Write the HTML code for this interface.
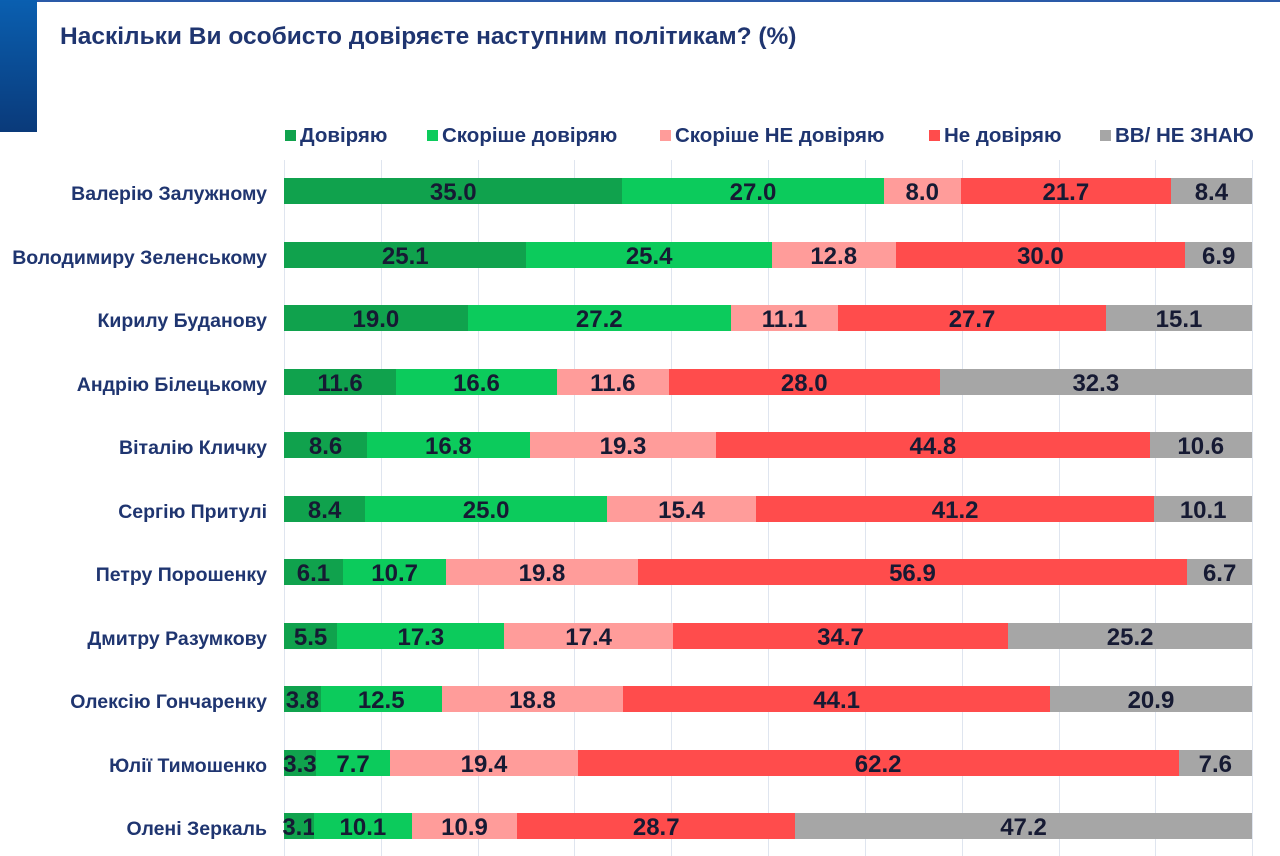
<!DOCTYPE html>
<html><head><meta charset="utf-8"><style>
body{margin:0;width:1280px;height:856px;background:#fff;position:relative;overflow:hidden;font-family:"Liberation Sans",Arial,sans-serif;}
.topline{position:absolute;left:0;top:0;width:1280px;height:2px;background:#2a5aa8}
.blk{position:absolute;left:0;top:0;width:37px;height:132px;background:linear-gradient(180deg,#0a5fb0,#0a3a7a)}
.title{position:absolute;left:60px;top:23px;font-size:24.5px;font-weight:bold;color:#1f3570}
.leg{position:absolute;top:124px;font-size:20.5px;font-weight:bold;color:#1f3570;white-space:nowrap}
.leg i{display:inline-block;width:11px;height:11px;margin-right:4px;vertical-align:1px}
.grid{position:absolute;top:160px;width:1px;height:696px;background:#dfe5ef}
.row{position:absolute;left:284px;width:968px;height:26px;display:flex}
.row div{flex-basis:0;min-width:0;text-align:center;font-size:24px;font-weight:bold;color:#161a33;line-height:29px;white-space:nowrap;display:flex;justify-content:center;overflow:visible}
.lab{position:absolute;right:1013px;font-size:19.5px;font-weight:bold;color:#1f3570;white-space:nowrap;line-height:26px;margin-top:3px}
.a{background:#10a24d}.b{background:#0ccb5c}.c{background:#ff9c9a}.d{background:#ff4c4c}.e{background:#a6a6a6}
</style></head><body>
<div class="topline"></div><div class="blk"></div>
<div class="title">Наскільки Ви особисто довіряєте наступним політикам? (%)</div>
<div class="leg" style="left:285px"><i class="a"></i>Довіряю</div>
<div class="leg" style="left:427px"><i class="b"></i>Скоріше довіряю</div>
<div class="leg" style="left:660px"><i class="c"></i>Скоріше НЕ довіряю</div>
<div class="leg" style="left:929px"><i class="d"></i>Не довіряю</div>
<div class="leg" style="left:1100px"><i class="e"></i>ВВ/ НЕ ЗНАЮ</div>
<div class="grid" style="left:284px"></div><div class="grid" style="left:381px"></div><div class="grid" style="left:478px"></div><div class="grid" style="left:574px"></div><div class="grid" style="left:671px"></div><div class="grid" style="left:768px"></div><div class="grid" style="left:865px"></div><div class="grid" style="left:962px"></div><div class="grid" style="left:1059px"></div><div class="grid" style="left:1155px"></div><div class="grid" style="left:1252px"></div>

<div class="lab" style="top:178px">Валерію Залужному</div>
<div class="row" style="top:178px"><div class="a" style="flex-grow:35">35.0</div><div class="b" style="flex-grow:27">27.0</div><div class="c" style="flex-grow:8">8.0</div><div class="d" style="flex-grow:21.7">21.7</div><div class="e" style="flex-grow:8.4">8.4</div></div>
<div class="lab" style="top:242px">Володимиру Зеленському</div>
<div class="row" style="top:242px"><div class="a" style="flex-grow:25.1">25.1</div><div class="b" style="flex-grow:25.4">25.4</div><div class="c" style="flex-grow:12.8">12.8</div><div class="d" style="flex-grow:30">30.0</div><div class="e" style="flex-grow:6.9">6.9</div></div>
<div class="lab" style="top:305px">Кирилу Буданову</div>
<div class="row" style="top:305px"><div class="a" style="flex-grow:19">19.0</div><div class="b" style="flex-grow:27.2">27.2</div><div class="c" style="flex-grow:11.1">11.1</div><div class="d" style="flex-grow:27.7">27.7</div><div class="e" style="flex-grow:15.1">15.1</div></div>
<div class="lab" style="top:369px">Андрію Білецькому</div>
<div class="row" style="top:369px"><div class="a" style="flex-grow:11.6">11.6</div><div class="b" style="flex-grow:16.6">16.6</div><div class="c" style="flex-grow:11.6">11.6</div><div class="d" style="flex-grow:28">28.0</div><div class="e" style="flex-grow:32.3">32.3</div></div>
<div class="lab" style="top:432px">Віталію Кличку</div>
<div class="row" style="top:432px"><div class="a" style="flex-grow:8.6">8.6</div><div class="b" style="flex-grow:16.8">16.8</div><div class="c" style="flex-grow:19.3">19.3</div><div class="d" style="flex-grow:44.8">44.8</div><div class="e" style="flex-grow:10.6">10.6</div></div>
<div class="lab" style="top:496px">Сергію Притулі</div>
<div class="row" style="top:496px"><div class="a" style="flex-grow:8.4">8.4</div><div class="b" style="flex-grow:25">25.0</div><div class="c" style="flex-grow:15.4">15.4</div><div class="d" style="flex-grow:41.2">41.2</div><div class="e" style="flex-grow:10.1">10.1</div></div>
<div class="lab" style="top:559px">Петру Порошенку</div>
<div class="row" style="top:559px"><div class="a" style="flex-grow:6.1">6.1</div><div class="b" style="flex-grow:10.7">10.7</div><div class="c" style="flex-grow:19.8">19.8</div><div class="d" style="flex-grow:56.9">56.9</div><div class="e" style="flex-grow:6.7">6.7</div></div>
<div class="lab" style="top:623px">Дмитру Разумкову</div>
<div class="row" style="top:623px"><div class="a" style="flex-grow:5.5">5.5</div><div class="b" style="flex-grow:17.3">17.3</div><div class="c" style="flex-grow:17.4">17.4</div><div class="d" style="flex-grow:34.7">34.7</div><div class="e" style="flex-grow:25.2">25.2</div></div>
<div class="lab" style="top:686px">Олексію Гончаренку</div>
<div class="row" style="top:686px"><div class="a" style="flex-grow:3.8">3.8</div><div class="b" style="flex-grow:12.5">12.5</div><div class="c" style="flex-grow:18.8">18.8</div><div class="d" style="flex-grow:44.1">44.1</div><div class="e" style="flex-grow:20.9">20.9</div></div>
<div class="lab" style="top:750px">Юлії Тимошенко</div>
<div class="row" style="top:750px"><div class="a" style="flex-grow:3.3">3.3</div><div class="b" style="flex-grow:7.7">7.7</div><div class="c" style="flex-grow:19.4">19.4</div><div class="d" style="flex-grow:62.2">62.2</div><div class="e" style="flex-grow:7.6">7.6</div></div>
<div class="lab" style="top:813px">Олені Зеркаль</div>
<div class="row" style="top:813px"><div class="a" style="flex-grow:3.1">3.1</div><div class="b" style="flex-grow:10.1">10.1</div><div class="c" style="flex-grow:10.9">10.9</div><div class="d" style="flex-grow:28.7">28.7</div><div class="e" style="flex-grow:47.2">47.2</div></div>
</body></html>
